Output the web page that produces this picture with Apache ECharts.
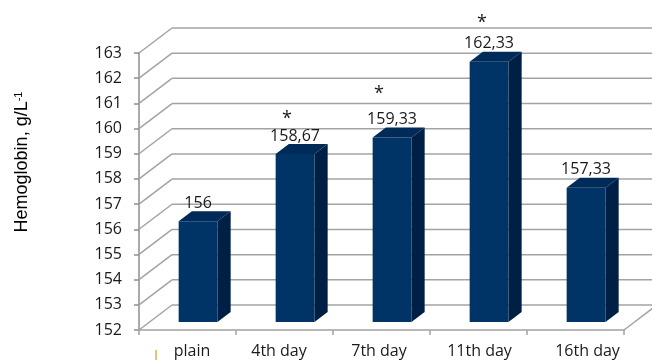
<!DOCTYPE html>
<html>
<head>
<meta charset="utf-8">
<script src="https://cdn.jsdelivr.net/npm/echarts@6/dist/echarts.min.js"></script>
<style>
  html, body { margin: 0; padding: 0; background: #ffffff; }
  #chart { width: 652px; height: 362px; }
</style>
</head>
<body>
<div id="chart"></div>
<script>
// ---- data ----
const categories = ['plain', '4th day', '7th day', '11th day', '16th day'];
const hemoglobin = [156, 158.67, 159.33, 162.33, 157.33];
const significant = [false, true, true, true, false];
const yTicks = [152, 153, 154, 155, 156, 157, 158, 159, 160, 161, 162, 163];

// ---- layout / style ----
const FONT = '"Open Sans", sans-serif';
const TEXT_COLOR = '#1a1a1a';
const GRID_COLOR = '#a3a3a3';
const DEPTH = [33, -25];            // receding offset of the back wall (px)
const BAR_FRONT = 0.32;             // bar front face position along the depth
const BAR_BACK = 0.72;              // bar back face position along the depth
const BAR_WIDTH = 0.4;              // bar width as a share of the category band
const LABEL_SHIFT = [4.5, -5.5, -2.5, 1, 12];          // x-label nudges (px)
const STAR_SHIFT = [[0, 0], [-8, -21], [-13, -30], [-7, -25], [0, 0]];
const BAR_COLORS = { front: '#003366', top: '#002a58', side: '#001f44' };

const yMin = yTicks[0];
const yMax = yTicks[yTicks.length - 1];

function fmt(v) {
  return Number.isInteger(v) ? String(v) : v.toFixed(2).replace('.', ',');
}

function lineStyle() {
  return { stroke: GRID_COLOR, lineWidth: 1.5 };
}

// back wall, left wall and floor lines of the 3-D box
function renderWalls(params, api) {
  const cs = params.coordSys;
  const v = api.value(1);
  const y = api.coord([0, v])[1];
  const x0 = cs.x;
  const x1 = cs.x + cs.width;
  const bx = x0 + DEPTH[0];
  const by = y + DEPTH[1];
  const children = [
    { type: 'line', shape: { x1: x0, y1: y, x2: bx, y2: by }, style: lineStyle() },
    { type: 'line', shape: { x1: bx, y1: by, x2: x1 + DEPTH[0], y2: by }, style: lineStyle() }
  ];
  if (v === yMin) {
    children.push({ type: 'line', shape: { x1: x1, y1: y, x2: x1 + DEPTH[0], y2: by }, style: lineStyle() });
  }
  return { type: 'group', children: children };
}

// 3-D column: front face, top face, side face, value label and significance star
function renderBar(params, api) {
  const i = api.value(0);
  const v = api.value(1);
  const top = api.coord([i, v]);
  const base = api.coord([i, yMin]);
  const band = api.size([1, 0])[0];
  const w = band * BAR_WIDTH;
  const ox = DEPTH[0] * BAR_FRONT, oy = DEPTH[1] * BAR_FRONT;
  const dx = DEPTH[0] * (BAR_BACK - BAR_FRONT), dy = DEPTH[1] * (BAR_BACK - BAR_FRONT);
  const xl = top[0] - w / 2 + ox, xr = top[0] + w / 2 + ox;
  const yt = top[1] + oy, yb = base[1] + oy;
  const cx = top[0] + ox;
  const labelY = yt + dy - 8;

  const children = [
    { type: 'polygon', shape: { points: [[xr, yt], [xr + dx, yt + dy], [xr + dx, yb + dy], [xr, yb]] },
      style: { fill: BAR_COLORS.side } },
    { type: 'polygon', shape: { points: [[xl, yt], [xr, yt], [xr + dx, yt + dy], [xl + dx, yt + dy]] },
      style: { fill: BAR_COLORS.top } },
    { type: 'rect', shape: { x: xl, y: yt, width: xr - xl, height: yb - yt },
      style: { fill: BAR_COLORS.front } },
    { type: 'text', x: cx, y: labelY,
      style: { text: fmt(v), fill: TEXT_COLOR, font: '16px ' + FONT, align: 'center', verticalAlign: 'middle' } }
  ];
  if (significant[i]) {
    children.push({ type: 'text', x: cx + STAR_SHIFT[i][0], y: labelY + STAR_SHIFT[i][1] + 4,
      style: { text: '*', fill: TEXT_COLOR, font: '18px ' + FONT, align: 'center', verticalAlign: 'middle' } });
  }
  return { type: 'group', children: children };
}

const labelRich = {};
LABEL_SHIFT.forEach(function (s, k) {
  labelRich['c' + k] = {
    fontFamily: FONT, fontSize: 16, color: TEXT_COLOR,
    padding: s >= 0 ? [0, 0, 0, 2 * s] : [0, -2 * s, 0, 0]
  };
});

const chart = echarts.init(document.getElementById('chart'), null, { renderer: 'canvas' });

chart.setOption({
  backgroundColor: '#ffffff',
  animation: false,
  grid: { left: 139, right: 28, top: 53, bottom: 32, containLabel: false },
  xAxis: {
    type: 'category',
    data: categories,
    boundaryGap: true,
    axisLine: { show: true, lineStyle: { color: GRID_COLOR, width: 1.5 } },
    axisTick: { show: true, length: 5, lineStyle: { color: GRID_COLOR, width: 1.5 } },
    axisLabel: {
      margin: 13,
      interval: 0,
      formatter: function (value, idx) { return '{c' + idx + '|' + value + '}'; },
      rich: labelRich
    },
    splitLine: { show: false }
  },
  yAxis: {
    type: 'value',
    min: yMin,
    max: yMax,
    interval: 1,
    axisLine: { show: true, lineStyle: { color: '#8e8e8e', width: 1.5 } },
    axisTick: { show: true, length: 5, lineStyle: { color: '#8e8e8e', width: 1.5 } },
    axisLabel: { margin: 17, fontFamily: FONT, fontSize: 16, color: TEXT_COLOR },
    splitLine: { show: false }
  },
  graphic: [
    {
      type: 'text', x: 22, y: 162, rotation: Math.PI / 2,
      style: {
        text: 'Hemoglobin, g/L{sup|-1}',
        fontFamily: '"Liberation Sans", Arial, sans-serif', fontSize: 18, fill: '#000000',
        align: 'center', verticalAlign: 'middle',
        rich: { sup: { fontFamily: '"Liberation Sans", Arial, sans-serif', fontSize: 11, verticalAlign: 'top', fill: '#000000' } }
      }
    },
    { type: 'line', shape: { x1: 156, y1: 350, x2: 156, y2: 360 }, style: { stroke: '#e8901c', lineWidth: 1.2 } }
  ],
  series: [
    {
      type: 'custom', name: 'walls', clip: false, z: 1, silent: true,
      renderItem: renderWalls,
      data: yTicks.map(function (t) { return [0, t]; })
    },
    {
      type: 'custom', name: 'Hemoglobin', clip: false, z: 3,
      renderItem: renderBar,
      data: hemoglobin.map(function (v, i) { return [i, v]; })
    }
  ]
});
</script>
</body>
</html>
